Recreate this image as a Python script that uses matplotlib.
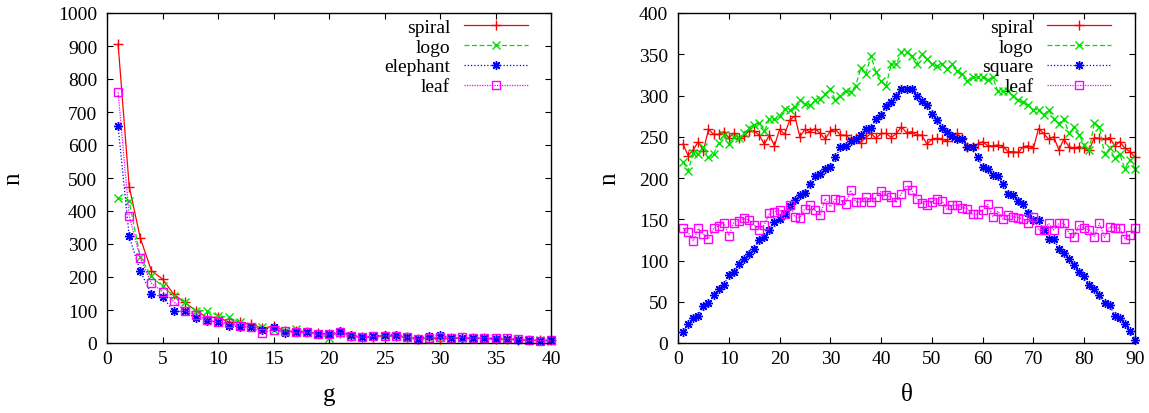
import numpy as np
import matplotlib
matplotlib.use("Agg")
import matplotlib.pyplot as plt

plt.rcParams['font.family'] = ['Liberation Serif', 'DejaVu Serif']

# left panel: counts n against g (g = 1..40)
g = np.arange(1, 41)
g_spiral = [906, 474, 318, 219, 194, 148, 123, 98, 78, 78, 63, 63, 58, 44, 52, 37, 35, 32, 30, 27,
            30, 22, 17, 19, 22, 22, 17, 12, 15, 12, 15, 14, 14, 14, 12, 12, 10, 9, 8, 8]
g_logo = [440, 429, 260, 202, 172, 143, 123, 98, 98, 83, 78, 63, 48, 48, 40, 35, 42, 32, 28, 15,
          30, 22, 19, 20, 22, 20, 18, 12, 15, 18, 15, 16, 15, 14, 14, 12, 12, 10, 9, 5]
g_elephant = [657, 323, 217, 149, 140, 96, 96, 75, 68, 63, 52, 50, 47, 40, 47, 30, 32, 32, 27, 27,
              35, 25, 17, 20, 25, 25, 18, 13, 22, 25, 15, 16, 14, 14, 12, 12, 10, 8, 7, 8]
g_leaf = [760, 386, 257, 181, 156, 126, 98, 85, 70, 63, 60, 52, 48, 30, 40, 35, 32, 32, 27, 27,
          32, 22, 17, 20, 22, 22, 18, 12, 15, 17, 15, 18, 15, 16, 16, 14, 12, 8, 7, 8]

# right panel: counts n against theta (1..90)
theta = np.arange(1, 91)
t_spiral = [241, 227, 234, 244, 233, 259, 253, 253, 256, 249, 254, 248, 251, 257, 257, 252, 241, 252, 239, 259,
            253, 270, 275, 250, 259, 256, 260, 254, 247, 257, 259, 252, 252, 247, 248, 243, 249, 254, 248, 254,
            254, 249, 254, 262, 255, 256, 252, 252, 241, 247, 248, 247, 245, 250, 254, 248, 238, 238, 241, 244,
            239, 239, 240, 238, 232, 232, 231, 238, 239, 236, 260, 254, 247, 250, 234, 247, 238, 236, 238, 236,
            234, 249, 248, 247, 249, 239, 244, 236, 232, 225]
t_logo = [219, 209, 230, 229, 238, 225, 229, 242, 252, 241, 250, 248, 254, 261, 264, 267, 257, 271, 271, 275,
          284, 282, 286, 295, 290, 288, 294, 296, 302, 308, 294, 300, 306, 304, 312, 333, 326, 348, 328, 318,
          312, 338, 338, 353, 353, 348, 338, 350, 344, 338, 336, 338, 332, 338, 330, 326, 318, 322, 322, 322,
          319, 322, 305, 305, 305, 299, 294, 292, 288, 283, 283, 276, 283, 272, 266, 272, 254, 262, 252, 240,
          234, 267, 262, 229, 236, 224, 229, 211, 222, 211]
t_square = [13, 23, 30, 33, 45, 48, 58, 66, 70, 82, 86, 96, 102, 108, 114, 125, 128, 137, 147, 150,
            156, 166, 173, 180, 182, 193, 203, 205, 211, 213, 225, 237, 239, 245, 247, 252, 259, 261, 271, 276,
            287, 292, 300, 308, 308, 308, 300, 293, 288, 278, 270, 261, 256, 251, 247, 247, 237, 237, 225, 213,
            211, 204, 203, 193, 181, 179, 172, 168, 157, 149, 149, 137, 126, 126, 114, 109, 102, 95, 86, 81,
            70, 66, 58, 48, 46, 33, 30, 23, 14, 4]
t_leaf = [139, 134, 124, 139, 132, 126, 139, 142, 146, 130, 146, 148, 151, 149, 143, 137, 143, 157, 159, 161,
          156, 167, 153, 152, 163, 167, 161, 155, 175, 165, 175, 173, 169, 185, 171, 171, 177, 171, 177, 184,
          179, 177, 171, 181, 191, 185, 175, 170, 167, 171, 175, 172, 162, 167, 167, 164, 163, 156, 156, 161,
          168, 153, 160, 150, 155, 153, 152, 150, 146, 153, 137, 137, 145, 137, 145, 145, 133, 129, 143, 139,
          137, 129, 145, 128, 141, 140, 139, 126, 131, 139]

red, green, blue, magenta = '#ff0000', '#00e000', '#0000ff', '#ff00ff'
star = (8, 2, 0)
styles = [
    dict(color=red, ls='-', marker='+', ms=6.5),
    dict(color=green, ls=(0, (4, 2)), marker='x', ms=5.5),
    dict(color=blue, ls=(0, (1, 1.6)), marker=star, ms=6.5),
    dict(color=magenta, ls=(0, (1, 1)), marker='s', ms=5.5, mfc='none'),
]

fig = plt.figure(figsize=(11.49, 4.14), dpi=100)
ax1 = fig.add_axes([107 / 1149, 70 / 414, 444 / 1149, 330 / 414])
ax2 = fig.add_axes([678 / 1149, 70 / 414, 457 / 1149, 330 / 414])


def draw(ax, x, series, labels):
    for y, lab, st in zip(series, labels, styles):
        ax.plot(x, y, label=lab, lw=0.9, mew=1.0, clip_on=False, **st)
    ax.tick_params(direction='in', top=True, right=True, length=4, width=0.8, labelsize=14)
    ax.tick_params(axis='y', pad=7)
    ax.tick_params(axis='x', pad=5)
    for s in ax.spines.values():
        s.set_linewidth(1.0)
    ax.legend(loc='upper right', bbox_to_anchor=(0.948, 0.985), frameon=False, markerfirst=False,
              fontsize=14, handlelength=3.3, handletextpad=0.7, labelspacing=0.12, borderpad=0,
              borderaxespad=0)


draw(ax1, g, [g_spiral, g_logo, g_elephant, g_leaf], ['spiral', 'logo', 'elephant', 'leaf'])
ax1.set_xlim(0, 40)
ax1.set_ylim(0, 1000)
ax1.set_xticks(np.arange(0, 41, 5))
ax1.set_yticks(np.arange(0, 1001, 100))
ax1.set_xlabel('g', fontsize=18)
ax1.set_ylabel('n', fontsize=18)
ax1.xaxis.set_label_coords(0.5, -0.12)
ax1.yaxis.set_label_coords(-0.185, 0.5)

draw(ax2, theta, [t_spiral, t_logo, t_square, t_leaf], ['spiral', 'logo', 'square', 'leaf'])
ax2.set_xlim(0, 90)
ax2.set_ylim(0, 400)
ax2.set_xticks(np.arange(0, 91, 10))
ax2.set_yticks(np.arange(0, 401, 50))
ax2.set_xlabel('θ', fontsize=18)
ax2.set_ylabel('n', fontsize=18)
ax2.xaxis.set_label_coords(0.5, -0.12)
ax2.yaxis.set_label_coords(-0.125, 0.5)

fig.savefig('out.png', dpi=100)
